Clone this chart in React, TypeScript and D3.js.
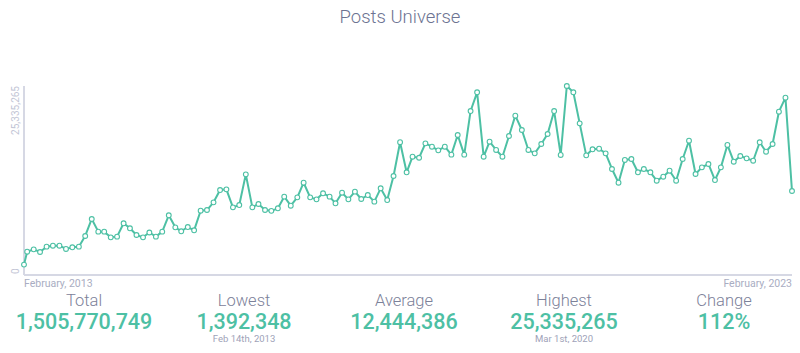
import React from 'react';
import * as d3 from 'd3';

// first point is a partial month (data starts Feb 14th 2013), then monthly from Mar 2013
const firstDate = new Date(2013, 1, 14);
const monthStart = new Date(2013, 2, 1);
const monthEnd = new Date(2023, 2, 1);

// posts per month, millions
const posts = [
  1.392348, 3.12, 3.44, 3.08, 3.8, 3.93, 3.93, 3.49, 3.71, 3.8,
  5.23, 7.51, 5.81, 5.81, 5.05, 5.14, 6.93, 6.26, 5.36, 5.05,
  5.7, 5.14, 5.81, 8.0, 6.39, 5.86, 6.43, 5.99, 8.62, 8.71,
  9.74, 11.39, 11.48, 9.07, 9.38, 13.49, 9.07, 9.52, 8.71, 8.6,
  8.94, 10.5, 9.29, 10.41, 12.37, 10.41, 10.14, 10.95, 10.5, 9.61,
  11.03, 10.14, 11.17, 10.19, 10.72, 9.83, 11.62, 10.05, 13.27, 17.8,
  13.77, 15.86, 15.72, 17.65, 17.2, 16.71, 17.2, 16.13, 18.77, 16.13,
  21.98, 24.49, 15.86, 17.87, 16.76, 15.86, 18.63, 21.36, 19.44, 16.76,
  16.31, 17.56, 18.9, 21.98, 16.09, 25.335265, 24.49, 20.33, 16.04, 16.85,
  16.93, 16.31, 14.21, 12.37, 15.42, 15.55, 13.77, 14.21, 13.77, 12.64,
  13.18, 13.98, 12.64, 15.55, 18.0, 13.54, 14.43, 14.88, 12.73, 14.43,
  17.43, 15.19, 15.95, 15.64, 15.32, 17.79, 16.53, 17.56, 21.89, 23.77,
  11.26,
];

const yTickLabels = ['0', '25,335,265'];
const xTickLabels = ['February, 2013', 'February, 2023'];

const statLabels = ['Total', 'Lowest', 'Average', 'Highest', 'Change'];
const statValues = ['1,505,770,749', '1,392,348', '12,444,386', '25,335,265', '112%'];
const statNotes = ['', 'Feb 14th, 2013', '', 'Mar 1st, 2020', ''];

const W = 800;
const H = 353;
const margin = { top: 86, right: 8, bottom: 78, left: 24 };
const teal = '#4dc0a4';
const font = 'Roboto, "Open Sans", sans-serif';

const App: React.FC = () => {
  const dates = [firstDate, ...d3.timeMonth.range(monthStart, monthEnd)];
  const data = dates.map((d, i) => ({ date: d, value: posts[i] * 1e6 }));

  const x = d3
    .scaleTime()
    .domain([firstDate, dates[dates.length - 1]])
    .range([margin.left, W - margin.right]);
  const y = d3
    .scaleLinear()
    .domain([0, d3.max(data, (d) => d.value)!])
    .range([H - margin.bottom, margin.top]);

  const line = d3
    .line<{ date: Date; value: number }>()
    .x((d) => x(d.date))
    .y((d) => y(d.value));

  const statX = d3
    .scalePoint<string>()
    .domain(statLabels)
    .range([84, 724]);

  const y0 = y(0);

  return (
    <svg
      width={W}
      height={H}
      style={{ position: 'absolute', left: 0, top: 0, fontFamily: font }}
    >
      <text x={W / 2} y={23} textAnchor="middle" fontSize={18.5} fontWeight={300} fill="#6d7392">
        Posts Universe
      </text>

      {/* axes */}
      <line x1={margin.left} x2={margin.left} y1={margin.top} y2={y0} stroke="#d6d8e4" strokeWidth={2} />
      <line x1={margin.left} x2={W - margin.right} y1={y0} y2={y0} stroke="#d6d8e4" strokeWidth={2} />

      <text
        transform={`translate(19,${y0 - 1}) rotate(-90)`}
        fontSize={10}
        fill="#c3c6d6"
        textAnchor="start"
      >
        {yTickLabels[0]}
      </text>
      <text
        transform={`translate(19,${y(d3.max(data, (d) => d.value)!)}) rotate(-90)`}
        fontSize={10}
        fill="#c3c6d6"
        textAnchor="end"
      >
        {yTickLabels[1]}
      </text>

      <text x={margin.left} y={287} fontSize={10.5} fill="#a9adc2" textAnchor="start">
        {xTickLabels[0]}
      </text>
      <text x={W - margin.right} y={287} fontSize={10.5} fill="#a9adc2" textAnchor="end">
        {xTickLabels[1]}
      </text>

      <path d={line(data) ?? ''} fill="none" stroke={teal} strokeWidth={2} strokeLinejoin="round" />
      {data.map((d, i) => (
        <circle key={i} cx={x(d.date)} cy={y(d.value)} r={2.4} fill="#fff" stroke={teal} strokeWidth={1.1} />
      ))}

      {/* summary */}
      {statLabels.map((s, i) => (
        <g key={s} transform={`translate(${statX(s)},0)`}>
          <text y={306} textAnchor="middle" fontSize={16.5} fontWeight={300} fill="#7c8199">
            {s}
          </text>
          <text y={328.5} textAnchor="middle" fontSize={21.5} fontWeight={500} fill={teal}>
            {statValues[i]}
          </text>
          {statNotes[i] && (
            <text y={342} textAnchor="middle" fontSize={9.5} fill="#9ea2b8">
              {statNotes[i]}
            </text>
          )}
        </g>
      ))}
    </svg>
  );
};

export default App;
